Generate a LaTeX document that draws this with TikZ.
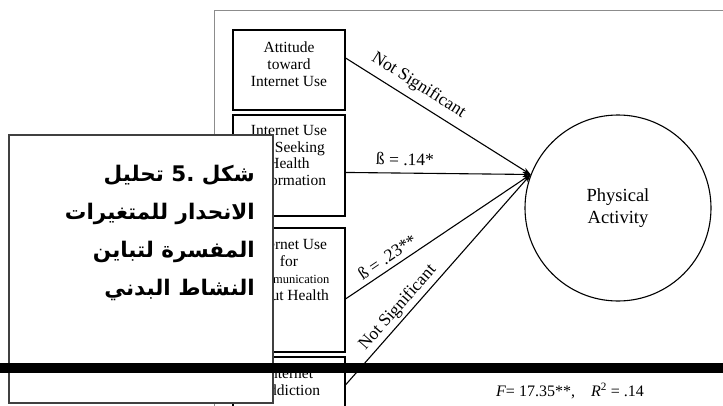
\documentclass[tikz,border=0pt]{standalone}
\usepackage{fontspec}
\setmainfont{Liberation Serif}
\newfontfamily\arabicfont[Script=Arabic]{DejaVu Sans}
\TeXXeTstate=1
\usetikzlibrary{arrows.meta}
\begin{document}
\begin{tikzpicture}[x=1pt,y=-1pt,
  box/.style={draw=black, line width=1.1pt, inner sep=0pt, rectangle},
  boxtext/.style={align=center, inner sep=0pt, font=\fontsize{15.5}{16.8}\selectfont},
  arr/.style={line width=1.1pt, -{Stealth[length=8pt,width=5.5pt]}},
  lbl/.style={font=\fontsize{17.5}{20}\selectfont, inner sep=1pt, sloped},
  artext/.style={anchor=base east, inner sep=0pt, font=\arabicfont\bfseries\fontsize{21.5}{26}\selectfont}
]
\clip (0,0) rectangle (723,405);
\fill[white] (0,0) rectangle (723,405);
% frame of the pasted page
\draw[black!45, line width=1pt] (214,450) -- (214,10) -- (730,10);
% predictor boxes
\node[box, minimum width=112pt, minimum height=80pt] (b1) at (289,70) {};
\node[box, minimum width=112pt, minimum height=101pt] (b2) at (289,165.5) {};
\node[box, minimum width=112pt, minimum height=124pt] (b3) at (289,290) {};
\node[box, minimum width=112pt, minimum height=84pt] (b4) at (289,399) {};
\node[boxtext] (t1) at (289,64) {Attitude\\toward\\Internet Use};
\node[boxtext] (t2) at (289,155.5) {Internet Use\\for Seeking\\Health\\Information};
\node[boxtext] (t3) at (289,270) {Internet Use\\for\\{\fontsize{12.5}{14}\selectfont Communication}\\about Health};
\node[boxtext] (t4) at (289,382) {Internet\\Addiction};
% outcome
\node[draw, circle, line width=1.1pt, minimum size=186pt, inner sep=0pt, align=center,
      font=\fontsize{18.5}{22}\selectfont] (pa) at (618,208) {Physical\\Activity};
% paths
\draw[arr] (b1.12) -- node[lbl, above=6pt, pos=0.35] (l1) {Not Significant} (pa.159);
\draw[arr] (b2.-7.6) -- node[lbl, above=6pt, pos=0.32] (l2) {ß = .14*} (pa.159);
\draw[arr] (b3.-9.1) -- node[lbl, above=4pt, pos=0.26] (l3) {ß = .23**} (pa.159);
\draw[arr] (b4.14) -- node[lbl, above=2pt, pos=0.33] (l4) {Not Significant} (pa.159);
% overlay caption box
\node[draw=black!75, line width=1.5pt, fill=white, rectangle, inner sep=0pt,
      minimum width=264pt, minimum height=268pt] (cap) at (141,269) {};
\node[artext] (a1) at (255,181) {\beginR شكل \beginL.5\endL{} تحليل\endR};
\node[artext] (a2) at (255,219) {\beginR الانحدار للمتغيرات\endR};
\node[artext] (a3) at (255,257) {\beginR المفسرة لتباين\endR};
\node[artext] (a4) at (255,295) {\beginR النشاط البدني\endR};
% black bar
\fill[black] (0,363) rectangle (723,373);
% statistics
\node[font=\fontsize{16}{18}\selectfont, inner sep=0pt] (fr) at (570,391)
  {\textit{F}= 17.35**,\quad \textit{R}\textsuperscript{2} = .14};
\end{tikzpicture}
\end{document}
